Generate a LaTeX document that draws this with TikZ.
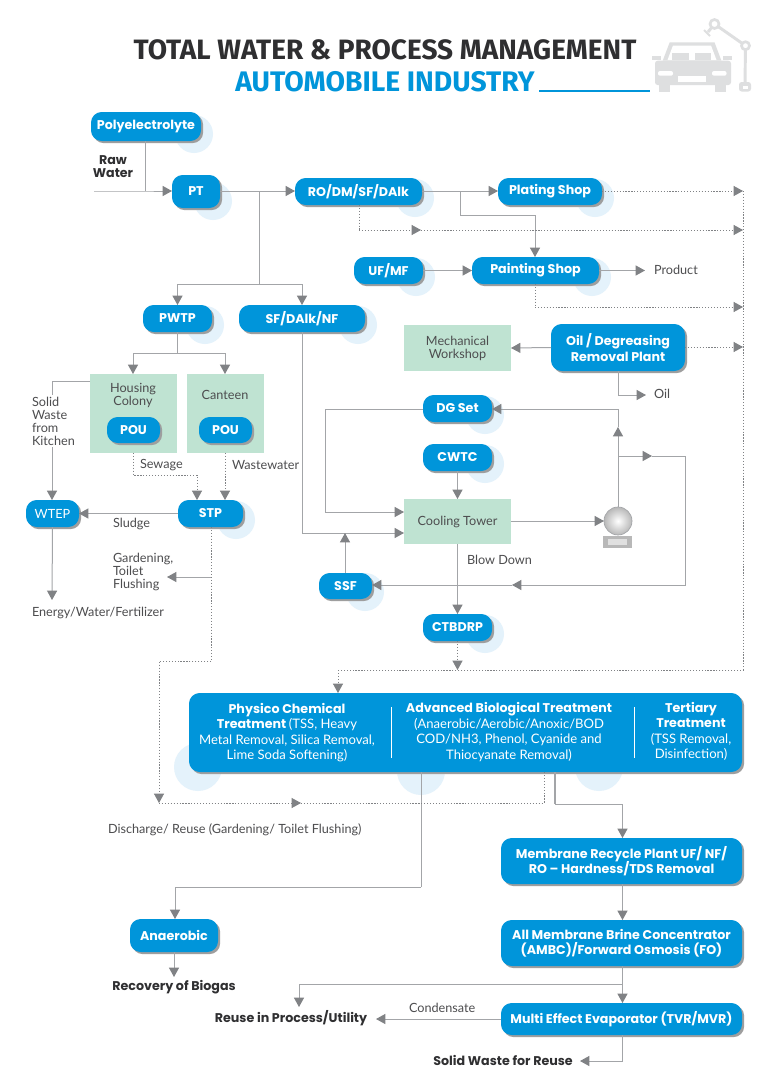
\documentclass[tikz,border=0pt]{standalone}
\usepackage{fontspec}
\setmainfont{Lato}
\newfontfamily\boxf{Poppins}[BoldFont={Poppins Bold}]
\newfontfamily\titlef{Fira Sans}
\usetikzlibrary{arrows.meta,shadows,backgrounds,calc}
\definecolor{cblue}{HTML}{0095DA}
\definecolor{cgreen}{HTML}{BFE3D2}
\definecolor{cline}{HTML}{A3A5A8}
\definecolor{ctip}{HTML}{808285}
\definecolor{chalo}{HTML}{E4F2FB}
\definecolor{ctext}{HTML}{4D4D4F}
\definecolor{cdark}{HTML}{2F2F31}
\definecolor{cicon}{HTML}{DEDFE0}
\tikzset{
  x=0.75pt,y=-0.75pt,
  every node/.style={inner sep=0pt,outer sep=0pt,align=center,text=ctext,font=\fontsize{9.5pt}{9.8pt}\selectfont},
  bluebox/.style={fill=cblue,rounded corners=8pt,text=white,font=\boxf\bfseries\fontsize{9.5pt}{11.6pt}\selectfont,
    drop shadow={shadow xshift=1.6pt,shadow yshift=-1.6pt,fill=black!38,opacity=1}},
  greenbox/.style={fill=cgreen},
  lab/.style={anchor=west,align=left},
  strong/.style={text=cdark,font=\boxf\bfseries\fontsize{9.5pt}{9.8pt}\selectfont},
  flow/.style={draw=cline,line width=0.75pt},
  dots/.style={draw=ctip,line width=0.6pt,dash pattern=on 0.9pt off 1.3pt},
  tip/.style={-{Triangle[length=7pt,width=7.5pt,fill=ctip,color=ctip]}},
}
\newcommand\bx[7]{%
  \pgfmathsetmacro\cxx{(#2+#4)/2}\pgfmathsetmacro\cyy{(#3+#5)/2}%
  \pgfmathsetmacro\ww{(#4-#2)*0.75}\pgfmathsetmacro\hh{(#5-#3)*0.75}%
  \node[#6,minimum width=\ww pt,minimum height=\hh pt] (#1) at (\cxx,\cyy) {#7};}
\begin{document}
\begin{tikzpicture}
\useasboundingbox (0,0) rectangle (768,1086);
% title
\node[font=\titlef\bfseries\fontsize{21pt}{24pt}\selectfont,text=cdark] (t1) at (385,50) {TOTAL WATER \& PROCESS MANAGEMENT};
\node[font=\titlef\bfseries\fontsize{21.2pt}{24pt}\selectfont,text=cblue] (t2) at (385,82) {AUTOMOBILE INDUSTRY};
\coordinate (ulA) at (539,91); \coordinate (ulB) at (650,91);
\draw[cblue,line width=1pt] (ulA) -- (ulB);
% icon
\begin{scope}
\fill[cicon] (662.7,60.7) -- (669.7,42.3) -- (714.5,42.3) -- (721.4,60.7) -- cycle;
\fill[white] (667.5,60) -- (673,45.5) -- (711,45.5) -- (716.5,60) -- cycle;
\fill[cicon] (672,53) rectangle (688.6,60); \fill[cicon] (695,53) rectangle (711,60);
\fill[cicon] (652,56) rectangle (661,60); \fill[cicon] (723,56) rectangle (732,60);
\fill[cicon,rounded corners=2pt] (655,60.7) rectangle (731,85);
\fill[white,rounded corners=1.5pt] (658,71) rectangle (673,75.7);
\fill[white,rounded corners=1.5pt] (712,71) rectangle (726.5,75.7);
\fill[white] (678,76) rectangle (706,81.7);
\fill[cicon] (658.6,85) rectangle (669.6,91.5); \fill[cicon] (714.5,85) rectangle (725.5,91.5);
\draw[cicon,line width=2.2pt] (714.5,24) -- (745.5,45.7) -- (745,84);
\draw[cicon,line width=2.2pt] (714.5,24) -- (708,32);
\draw[cicon,line width=1.4pt] (704,30) -- (710,36);
\draw[cicon,line width=2pt,fill=white] (714.5,24) circle[radius=4.5];
\draw[cicon,line width=2pt,fill=white] (745.5,45.7) circle[radius=4];
\fill[cicon,rounded corners=2pt] (739,82) rectangle (751,91.5);
\fill[white] (742.5,86) rectangle (747.5,89);
\end{scope}
% boxes
\bx{poly}{91}{112}{201}{141}{bluebox}{Polyelectrolyte}
\bx{pt}{172}{175}{220}{208}{bluebox}{PT}
\bx{ro}{295}{178}{422}{205}{bluebox}{RO/DM/SF/DAlk}
\bx{plating}{498}{178}{602}{205}{bluebox}{Plating Shop}
\bx{uf}{354}{257}{423}{284}{bluebox}{UF/MF}
\bx{painting}{472}{257}{599}{284}{bluebox}{Painting Shop}
\bx{pwtp}{143}{305}{212}{332}{bluebox}{PWTP}
\bx{sfd}{239}{305}{365}{332}{bluebox}{SF/DAlk/NF}
\bx{mech}{404}{325}{511}{371}{greenbox}{Mechanical\\Workshop}
\bx{oilp}{551}{324}{685}{371}{bluebox}{Oil / Degreasing\\Removal Plant}
\bx{housing}{90}{374}{177}{453}{greenbox}{}
\bx{canteen}{187}{374}{264}{453}{greenbox}{}
\node (housingt) at (133,395) {Housing\\Colony};
\node (canteent) at (225,395) {Canteen};
\bx{pou1}{107}{417}{160}{443}{bluebox}{POU}
\bx{pou2}{199}{417}{252}{443}{bluebox}{POU}
\bx{dg}{423}{395}{492}{422}{bluebox}{DG Set}
\bx{cwtc}{423}{444}{492}{471}{bluebox}{CWTC}
\bx{ct}{404}{499}{511}{544}{greenbox}{Cooling Tower}
\bx{wtep}{26}{500}{79}{527}{bluebox,font=\fontsize{9.5pt}{11pt}\selectfont}{WTEP}
\bx{stp}{178}{500}{243}{527}{bluebox}{STP}
\bx{ssf}{319}{573}{372}{599}{bluebox}{SSF}
\bx{ctb}{423}{614}{492}{641}{bluebox}{CTBDRP}
\bx{main}{189}{693}{742}{772}{bluebox}{}
\bx{mem}{501}{838}{742}{884}{bluebox}{Membrane Recycle Plant UF/ NF/\\RO – Hardness/TDS Removal}
\bx{amb}{501}{920}{742}{966}{bluebox}{All Membrane Brine Concentrator\\(AMBC)/Forward Osmosis (FO)}
\bx{mee}{501}{1003}{742}{1035}{bluebox}{Multi Effect Evaporator (TVR/MVR)}
\bx{ana}{130}{919}{218}{952}{bluebox}{Anaerobic}
% main box text
\newcommand\lt{\fontfamily{\familydefault}\normalfont\fontsize{9.8pt}{11.6pt}\selectfont}
\node[text=white,font=\boxf\bfseries\fontsize{9.5pt}{11.6pt}\selectfont] (m1) at (287,732.5) {Physico Chemical\\Treatment {\lt (TSS, Heavy}\\{\lt Metal Removal, Silica Removal,}\\{\lt Lime Soda Softening)}};
\node[text=white,font=\boxf\bfseries\fontsize{9.5pt}{11.6pt}\selectfont] (m2) at (509,732) {Advanced Biological Treatment\\{\lt (Anaerobic/Aerobic/Anoxic/BOD}\\{\lt COD/NH3, Phenol, Cyanide and}\\{\lt Thiocyanate Removal)}};
\node[text=white,font=\boxf\bfseries\fontsize{9.5pt}{11.6pt}\selectfont] (m3) at (691,731.5) {Tertiary\\Treatment\\{\lt (TSS Removal,}\\{\lt Disinfection)}};
\coordinate (d1a) at (391,707); \coordinate (d1b) at (391,758);
\coordinate (d2a) at (634,707); \coordinate (d2b) at (634,758);
\draw[white,line width=0.6pt] (d1a) -- (d1b) (d2a) -- (d2b);
% sphere
\shade[inner color=white,outer color=black!28] (618,521) circle[radius=14];
\draw[cline,line width=0.5pt] (618,521) circle[radius=14];
\fill[black!28] (603,536) rectangle (632,548);
\fill[black!12] (608,539) rectangle (627,545);
\coordinate (ball) at (618,507);
\coordinate (ballw) at (604,521);
% halos
\begin{scope}[on background layer]
\fill[white] (0,0) rectangle (768,1086);
\foreach \n in {poly,pt,ro,plating,uf,painting,pwtp,sfd,stp,ssf,dg,cwtc,ctb}
  \fill[chalo] ($(\n.south east)+(-7,-7)$) circle[radius=19];
\fill[chalo] (198,767) circle[radius=24];
\fill[chalo] (421,771) circle[radius=24];
\fill[chalo] (599,767) circle[radius=24];
\end{scope}
% free labels
\node[text=cdark,font=\boxf\bfseries\fontsize{9.5pt}{9.8pt}\selectfont] (raw) at (113,167) {Raw\\Water};
\node[lab] (prod) at (654,270) {Product};
\node[lab] (oil) at (654,394) {Oil};
\node[lab] (sew) at (140,465) {Sewage};
\node[lab] (ww) at (232,465) {Wastewater};
\node[lab] (sludge) at (113,524) {Sludge};
\node[lab] (gard) at (113,572) {Gardening,\\Toilet\\Flushing};
\node[lab] (energy) at (32,613) {Energy/Water/Fertilizer};
\node[lab] (blow) at (467,560) {Blow Down};
\node[lab] (disch) at (108,830) {Discharge/ Reuse (Gardening/ Toilet Flushing)};
\node[strong] (bio) at (174,987) {Recovery of Biogas};
\node[strong] (reuse) at (291,1018) {Reuse in Process/Utility};
\node[lab] (cond) at (409,1008) {Condensate};
\node[strong] (solid) at (503,1060) {Solid Waste for Reuse};
% junctions
\coordinate (rawS) at (94,191);
\coordinate (j1) at (145,191);
\coordinate (j2) at (259,191);
\coordinate (j3) at (259,284);
\coordinate (j3a) at (177.5,284);
\coordinate (j3b) at (302,284);
\coordinate (j4) at (460,191);
\coordinate (j5) at (460,215);
\coordinate (j6) at (535,215);
\coordinate (dR) at (743,191);
\coordinate (d2) at (359,230);
\coordinate (d2m) at (421,230);
\coordinate (d2e) at (743,230);
\coordinate (d3) at (535,307);
\coordinate (d3e) at (743,307);
\coordinate (d4e) at (743,347);
\coordinate (dB) at (743,670);
\coordinate (dL) at (338,670);
\coordinate (dC) at (457.5,670);
\coordinate (oilA) at (618,395);
\coordinate (oilE) at (646,395);
\coordinate (pw) at (177.5,353);
\coordinate (pwa) at (133,353);
\coordinate (pwb) at (225,353);
\coordinate (sA) at (133,475);
\coordinate (sB) at (197,475);
\coordinate (swA) at (52,381);
\coordinate (gj) at (211,577);
\coordinate (ge) at (167,577);
\coordinate (en) at (52,600);
\coordinate (sd1) at (211,661);
\coordinate (sd2) at (159,661);
\coordinate (sd3) at (159,803);
\coordinate (sd4) at (301,803);
\coordinate (sd5) at (544,803);
\coordinate (dgL) at (325,409);
\coordinate (dgB) at (325,512);
\coordinate (sfB) at (302,533);
\coordinate (ssfT) at (345,533);
\coordinate (bTop) at (618,409);
\coordinate (bMid) at (618,456);
\coordinate (bUp) at (618,427);
\coordinate (rA) at (652,456);
\coordinate (rB) at (685,456);
\coordinate (rC) at (685,585);
\coordinate (rD) at (512,585);
\coordinate (mA) at (421,887);
\coordinate (mB) at (175,887);
\coordinate (bA) at (555,804);
\coordinate (bB) at (622.5,804);
\coordinate (hA) at (622.5,984);
\coordinate (hB) at (299,984);
\coordinate (hC) at (299,1007);
\coordinate (lo) at (622.5,1061);
\coordinate (loE) at (580,1061);
% solid lines
\draw[flow] (poly.south -| j1) -- (j1);
\draw[flow,tip] (rawS) -- (j1) -- (j1 -| pt.west);
\draw[flow,tip] (pt.east |- j2) -- (j2 -| ro.west);
\draw[flow] (j2) -- (j3);
\draw[flow,tip] (j3) -- (j3a) -- (j3a |- pwtp.north);
\draw[flow,tip] (j3) -- (j3b) -- (j3b |- sfd.north);
\draw[flow,tip] (ro.east |- j4) -- (plating.west |- j4);
\draw[flow,tip] (j4) -- (j5) -- (j6) -- (j6 |- painting.north);
\draw[flow,tip] (uf.east) -- (painting.west);
\draw[flow,tip] (painting.east) -- (645,270.5) coordinate (pe);
\draw[flow,tip] (oilp.west) -- (mech.east);
\draw[flow] (oilA |- oilp.south) -- (oilA);
\draw[flow,tip] (oilA) -- (oilE);
\draw[flow] (pwtp.south -| pw) -- (pw);
\draw[flow,tip] (pw) -- (pwa) -- (pwa |- housing.north);
\draw[flow,tip] (pw) -- (pwb) -- (pwb |- canteen.north);
\draw[flow,tip] (housing.west |- swA) -- (swA) -- (swA |- wtep.north);
\node[lab,fill=white,inner ysep=1pt] (swk) at (32,421) {Solid\\Waste\\from\\Kitchen};
\draw[flow,tip] (stp.west) -- (wtep.east);
\draw[flow,tip] (wtep.south) -- (en);
\draw[flow,tip] (gj) -- (ge);
\draw[flow] (dg.west |- dgL) -- (dgL) -- (dgB);
\draw[flow,tip] (dgB) -- (dgB -| ct.west);
\draw[flow] (j3b |- sfd.south) -- (sfB);
\draw[flow,tip] (sfB) -- (sfB -| ct.west);
\draw[flow,tip] (ssf.north -| ssfT) -- (ssfT);
\draw[flow,tip] (cwtc.south) -- (ct.north);
\draw[flow,tip] (ct.south) -- (ctb.north);
\draw[flow,tip] (ct.east |- ballw) -- (ballw);
\draw[flow,tip] (ball) -- (bUp);
\draw[flow,tip] (bUp) -- (bTop) -- (dg.east |- bTop);
\draw[flow,tip] (bMid) -- (rA);
\draw[flow,tip] (rA) -- (rB) -- (rC) -- (rD);
\draw[flow,tip] (rD) -- (ssf.east |- rD);
\draw[flow] (main.south -| mA) -- (mA);
\draw[flow,tip] (mA) -- (mB) -- (mB |- ana.north);
\draw[flow,line width=1pt] (main.south -| bA) -- (bA);
\draw[flow,tip] (bA) -- (bB) -- (bB |- mem.north);
\draw[flow,tip] (mem.south -| bB) -- (amb.north -| bB);
\draw[flow,tip] (amb.south -| bB) -- (mee.north -| bB);
\draw[flow,tip] (hA) -- (hB) -- (hC);
\draw[flow,tip] (mee.west) -- (376,1019) coordinate (meE);
\draw[flow] (mee.south -| lo) -- (lo);
\draw[flow,tip] (lo) -- (loE);
\draw[flow,tip] (ana.south -| bio) -- (174,977) coordinate (anE);
% dotted lines
\draw[dots,tip] (plating.east |- dR) -- (dR);
\draw[dots] (ro.south -| d2) -- (d2);
\draw[dots,tip] (d2) -- (d2m);
\draw[dots,tip] (d2m) -- (d2e);
\draw[dots] (d3 |- painting.south) -- (d3);
\draw[dots,tip] (d3) -- (d3e);
\draw[dots,tip] (oilp.east |- d4e) -- (d4e);
\draw[dots] (dR) -- (dB) -- (dL);
\draw[dots,tip] (dL) -- (dL |- main.north);
\draw[dots,tip] (ctb.south) -- (dC);
\draw[dots,tip] (housing.south -| sA) -- (sA) -- (sB) -- (sB |- stp.north);
\draw[dots,tip] (canteen.south -| pwb) -- (pwb |- stp.north);
\draw[dots] (stp.south -| sd1) -- (sd1);
\draw[dots,tip] (sd1) -- (sd2) -- (sd3);
\draw[dots,tip] (sd3) -- (sd4);
\draw[dots] (sd4) -- (sd5) -- (sd5 |- main.south);
\end{tikzpicture}
\end{document}
